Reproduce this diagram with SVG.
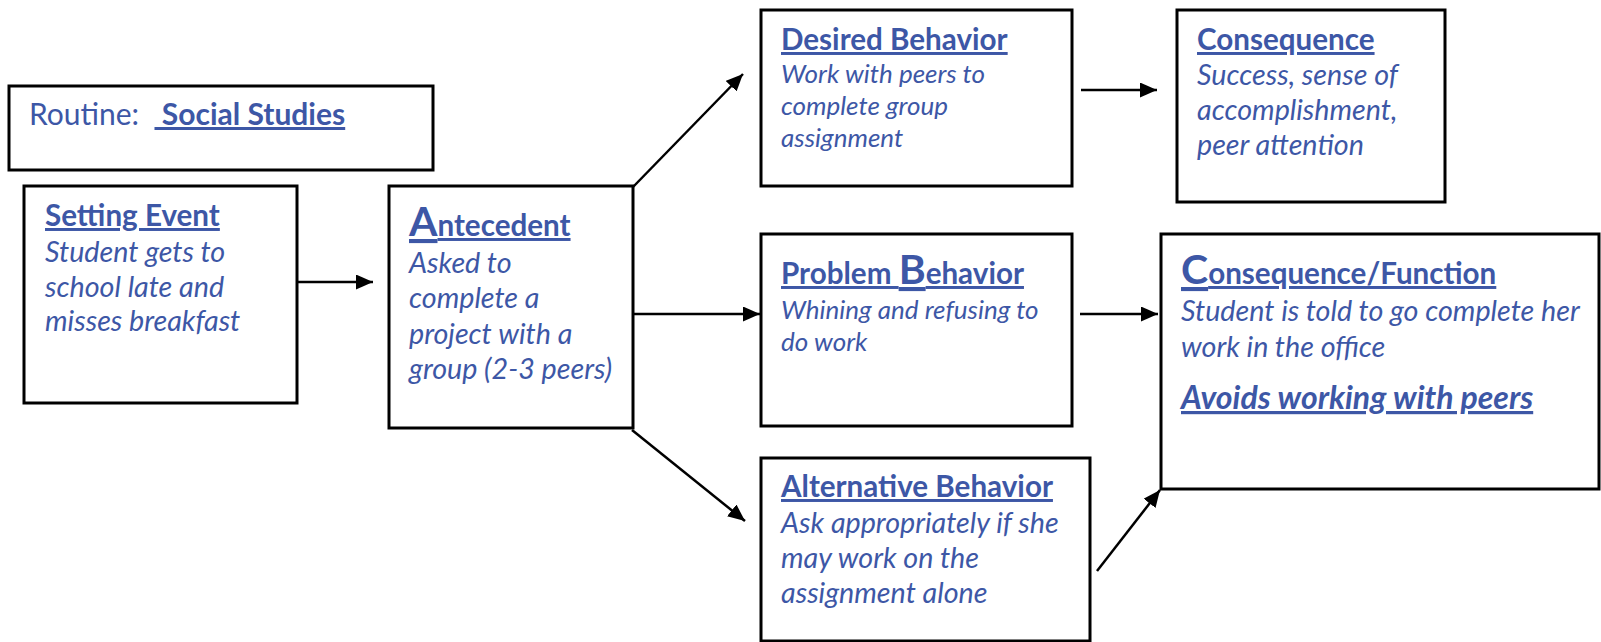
<svg xmlns="http://www.w3.org/2000/svg" width="1601" height="642" viewBox="0 0 1601 642">
<defs>
<style>
.box{fill:#fff;stroke:#000;stroke-width:3}
.t{font-family:Lato,"Liberation Sans",sans-serif;fill:#3D57A6}
.h{font-weight:bold;font-size:29.6px;text-decoration:underline}
.big{font-size:41px}
.b{font-style:italic;font-size:28.7px}
.s{font-style:italic;font-size:26px}
.r{font-size:30px}
.av{font-style:italic;font-size:32px}
.c{stroke:#000;stroke-width:2.5;fill:none;marker-end:url(#ah)}
</style>
<marker id="ah" markerUnits="userSpaceOnUse" markerWidth="19" markerHeight="17" refX="17" refY="7.5" orient="auto">
<path d="M0,0 L17,7.5 L0,15 z" fill="#000"/>
</marker>
</defs>
<rect width="1601" height="642" fill="#fff"/>
<g id="routine">
<rect class="box" x="9" y="86" width="424" height="84"/>
<text class="t r" x="29" y="125" xml:space="preserve">Routine:  <tspan font-weight="bold" text-decoration="underline"> Social Studies</tspan></text>
</g>
<g id="setting">
<rect class="box" x="24" y="186" width="273" height="217"/>
<text class="t h" x="45" y="226">Setting Event</text>
<text class="t b" x="45" y="262">Student gets to</text>
<text class="t b" x="45" y="297">school late and</text>
<text class="t b" x="45" y="331">misses breakfast</text>
</g>
<g id="antecedent">
<rect class="box" x="389" y="186" width="244" height="242"/>
<text class="t h" x="409" y="236"><tspan class="big">A</tspan>ntecedent</text>
<text class="t b" x="409" y="273">Asked to</text>
<text class="t b" x="409" y="308">complete a</text>
<text class="t b" x="409" y="344">project with a</text>
<text class="t b" x="409" y="379">group (2-3 peers)</text>
</g>
<g id="desired">
<rect class="box" x="761" y="10" width="311" height="176"/>
<text class="t h" x="781" y="50">Desired Behavior</text>
<text class="t s" x="781" y="83">Work with peers to</text>
<text class="t s" x="781" y="115">complete group</text>
<text class="t s" x="781" y="147">assignment</text>
</g>
<g id="consequence">
<rect class="box" x="1177" y="10" width="268" height="192"/>
<text class="t h" x="1197" y="50">Consequence</text>
<text class="t b" x="1197" y="85">Success, sense of</text>
<text class="t b" x="1197" y="120">accomplishment,</text>
<text class="t b" x="1197" y="155">peer attention</text>
</g>
<g id="problem">
<rect class="box" x="761" y="234" width="311" height="192"/>
<text class="t h" x="781" y="284">Problem <tspan class="big">B</tspan>ehavior</text>
<text class="t s" x="781" y="319">Whining and refusing to</text>
<text class="t s" x="781" y="351">do work</text>
</g>
<g id="function">
<rect class="box" x="1161" y="234" width="438" height="255"/>
<text class="t h" x="1181" y="284"><tspan class="big">C</tspan>onsequence/Function</text>
<text class="t b" x="1181" y="321">Student is told to go complete her</text>
<text class="t b" x="1181" y="357">work in the office</text>
<text class="t h" x="1181" y="409"><tspan class="av">Avoids working with peers</tspan></text>
</g>
<g id="alternative">
<rect class="box" x="761" y="458" width="329" height="183"/>
<text class="t h" x="781" y="497">Alternative Behavior</text>
<text class="t b" x="781" y="533">Ask appropriately if she</text>
<text class="t b" x="781" y="568">may work on the</text>
<text class="t b" x="781" y="603">assignment alone</text>
</g>
<g id="connectors">
<line class="c" x1="297" y1="282" x2="373" y2="282"/>
<line class="c" x1="633" y1="314" x2="760" y2="314"/>
<line class="c" x1="633" y1="187" x2="743" y2="74"/>
<line class="c" x1="632" y1="430" x2="745" y2="521"/>
<line class="c" x1="1081" y1="90" x2="1157" y2="90"/>
<line class="c" x1="1080" y1="314" x2="1158" y2="314"/>
<line class="c" x1="1097" y1="571" x2="1160" y2="490"/>
</g>
</svg>
